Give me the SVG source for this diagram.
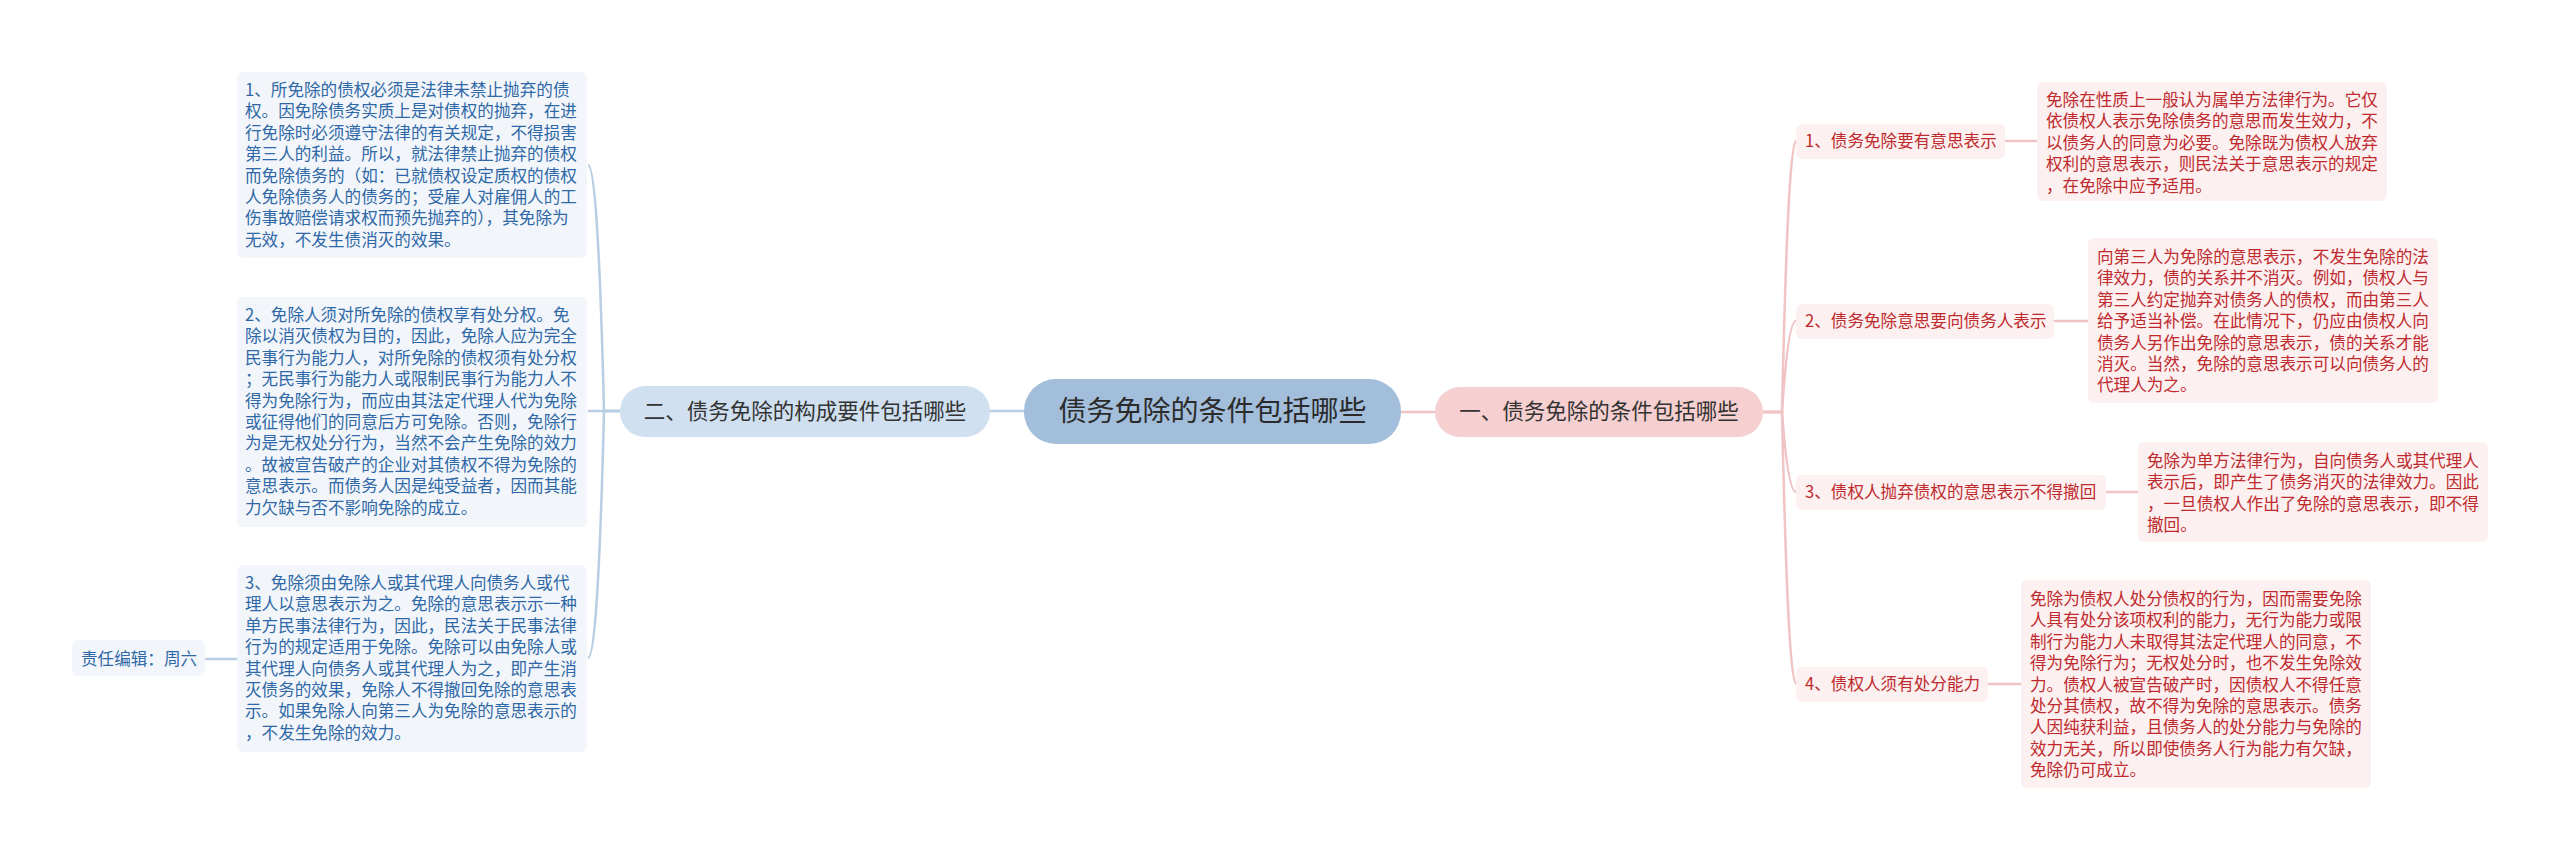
<svg xmlns="http://www.w3.org/2000/svg" width="2560" height="861" viewBox="0 0 2560 861">
<style>
text{font-family:"Noto Sans CJK SC","Noto Sans",sans-serif;}
.bl{fill:#f2f6fb;}
.bt{fill:#2f68a6;font-size:16.6px;}
.pk{fill:#fcf0f0;}
.pt{fill:#bf2a2e;font-size:16.6px;}
.cb{fill:none;stroke:#b9cee4;stroke-width:2.5;}
.cp{fill:none;stroke:#f0c4c4;stroke-width:2.5;}
.l1{font-size:21.5px;fill:#333;text-anchor:middle;}
</style>
<rect width="2560" height="861" fill="#ffffff"/>
<g id="connectors">
<path class="cb" d="M990,411 L1024,411"/>
<path class="cp" d="M1401,412 L1435,412"/>
<path class="cb" d="M620,411 L604,411 Q598,165 588,165"/>
<path class="cb" d="M620,411 L588,411"/>
<path class="cb" d="M620,411 L604,411 Q598,658 588,658"/>
<path class="cb" d="M205,659 L237,659"/>
<path class="cp" d="M1763,412 L1782,412 Q1788,141 1796,141"/>
<path class="cp" d="M1763,412 L1782,412 Q1788,321 1796,321"/>
<path class="cp" d="M1763,412 L1782,412 Q1788,492 1796,492"/>
<path class="cp" d="M1763,412 L1782,412 Q1788,684 1796,684"/>
<path class="cp" d="M2005,141 L2037,141"/>
<path class="cp" d="M2054,321 L2088,321"/>
<path class="cp" d="M2106,492 L2138,492"/>
<path class="cp" d="M1988,684 L2021,684"/>
</g>
<g id="center">
<rect x="1024" y="379" width="377" height="65" rx="32" fill="#a2bedb"/>
<text x="1212.5" y="421" font-size="28" fill="#2b2b2b" text-anchor="middle">债务免除的条件包括哪些</text>
</g>
<g id="branch-left">
<rect x="620" y="386" width="370" height="51" rx="25" fill="#d0e0f0"/>
<text class="l1" x="805" y="419">二、债务免除的构成要件包括哪些</text>
</g>
<g id="branch-right">
<rect x="1435" y="387" width="328" height="50" rx="25" fill="#f6d0d0"/>
<text class="l1" x="1599" y="419">一、债务免除的条件包括哪些</text>
</g>
<g id="left-1">
<rect class="bl" x="237" y="72" width="350" height="186" rx="6"/>
<text class="bt" y="96"><tspan x="245">1、所免除的债权必须是法律未禁止抛弃的债</tspan><tspan x="245" dy="21.4">权。因免除债务实质上是对债权的抛弃，在进</tspan><tspan x="245" dy="21.4">行免除时必须遵守法律的有关规定，不得损害</tspan><tspan x="245" dy="21.4">第三人的利益。所以，就法律禁止抛弃的债权</tspan><tspan x="245" dy="21.4">而免除债务的（如：已就债权设定质权的债权</tspan><tspan x="245" dy="21.4">人免除债务人的债务的；受雇人对雇佣人的工</tspan><tspan x="245" dy="21.4">伤事故赔偿请求权而预先抛弃的），其免除为</tspan><tspan x="245" dy="21.4">无效，不发生债消灭的效果。</tspan></text>
</g>
<g id="left-2">
<rect class="bl" x="237" y="297" width="350" height="230" rx="6"/>
<text class="bt" y="321"><tspan x="245">2、免除人须对所免除的债权享有处分权。免</tspan><tspan x="245" dy="21.4">除以消灭债权为目的，因此，免除人应为完全</tspan><tspan x="245" dy="21.4">民事行为能力人，对所免除的债权须有处分权</tspan><tspan x="245" dy="21.4">；无民事行为能力人或限制民事行为能力人不</tspan><tspan x="245" dy="21.4">得为免除行为，而应由其法定代理人代为免除</tspan><tspan x="245" dy="21.4">或征得他们的同意后方可免除。否则，免除行</tspan><tspan x="245" dy="21.4">为是无权处分行为，当然不会产生免除的效力</tspan><tspan x="245" dy="21.4">。故被宣告破产的企业对其债权不得为免除的</tspan><tspan x="245" dy="21.4">意思表示。而债务人因是纯受益者，因而其能</tspan><tspan x="245" dy="21.4">力欠缺与否不影响免除的成立。</tspan></text>
</g>
<g id="left-3">
<rect class="bl" x="237" y="565" width="350" height="187" rx="6"/>
<text class="bt" y="589"><tspan x="245">3、免除须由免除人或其代理人向债务人或代</tspan><tspan x="245" dy="21.4">理人以意思表示为之。免除的意思表示示一种</tspan><tspan x="245" dy="21.4">单方民事法律行为，因此，民法关于民事法律</tspan><tspan x="245" dy="21.4">行为的规定适用于免除。免除可以由免除人或</tspan><tspan x="245" dy="21.4">其代理人向债务人或其代理人为之，即产生消</tspan><tspan x="245" dy="21.4">灭债务的效果，免除人不得撤回免除的意思表</tspan><tspan x="245" dy="21.4">示。如果免除人向第三人为免除的意思表示的</tspan><tspan x="245" dy="21.4">，不发生免除的效力。</tspan></text>
</g>
<g id="editor">
<rect class="bl" x="72" y="640" width="133" height="36" rx="6"/>
<text class="bt" x="81" y="665">责任编辑：周六</text>
</g>
<g id="right-1">
<rect class="pk" x="1796" y="124" width="209" height="35" rx="6"/>
<text class="pt" x="1805" y="147">1、债务免除要有意思表示</text>
</g>
<g id="right-1-detail">
<rect class="pk" x="2037" y="82" width="350" height="119" rx="6"/>
<text class="pt" y="106"><tspan x="2046">免除在性质上一般认为属单方法律行为。它仅</tspan><tspan x="2046" dy="21.4">依债权人表示免除债务的意思而发生效力，不</tspan><tspan x="2046" dy="21.4">以债务人的同意为必要。免除既为债权人放弃</tspan><tspan x="2046" dy="21.4">权利的意思表示，则民法关于意思表示的规定</tspan><tspan x="2046" dy="21.4">，在免除中应予适用。</tspan></text>
</g>
<g id="right-2">
<rect class="pk" x="1796" y="304" width="258" height="35" rx="6"/>
<text class="pt" x="1805" y="327">2、债务免除意思要向债务人表示</text>
</g>
<g id="right-2-detail">
<rect class="pk" x="2088" y="238" width="350" height="165" rx="6"/>
<text class="pt" y="263"><tspan x="2097">向第三人为免除的意思表示，不发生免除的法</tspan><tspan x="2097" dy="21.4">律效力，债的关系并不消灭。例如，债权人与</tspan><tspan x="2097" dy="21.4">第三人约定抛弃对债务人的债权，而由第三人</tspan><tspan x="2097" dy="21.4">给予适当补偿。在此情况下，仍应由债权人向</tspan><tspan x="2097" dy="21.4">债务人另作出免除的意思表示，债的关系才能</tspan><tspan x="2097" dy="21.4">消灭。当然，免除的意思表示可以向债务人的</tspan><tspan x="2097" dy="21.4">代理人为之。</tspan></text>
</g>
<g id="right-3">
<rect class="pk" x="1796" y="475" width="310" height="35" rx="6"/>
<text class="pt" x="1805" y="498">3、债权人抛弃债权的意思表示不得撤回</text>
</g>
<g id="right-3-detail">
<rect class="pk" x="2138" y="442" width="350" height="100" rx="6"/>
<text class="pt" y="467"><tspan x="2147">免除为单方法律行为，自向债务人或其代理人</tspan><tspan x="2147" dy="21.4">表示后，即产生了债务消灭的法律效力。因此</tspan><tspan x="2147" dy="21.4">，一旦债权人作出了免除的意思表示，即不得</tspan><tspan x="2147" dy="21.4">撤回。</tspan></text>
</g>
<g id="right-4">
<rect class="pk" x="1796" y="667" width="192" height="35" rx="6"/>
<text class="pt" x="1805" y="690">4、债权人须有处分能力</text>
</g>
<g id="right-4-detail">
<rect class="pk" x="2021" y="580" width="350" height="208" rx="6"/>
<text class="pt" y="605"><tspan x="2030">免除为债权人处分债权的行为，因而需要免除</tspan><tspan x="2030" dy="21.4">人具有处分该项权利的能力，无行为能力或限</tspan><tspan x="2030" dy="21.4">制行为能力人未取得其法定代理人的同意，不</tspan><tspan x="2030" dy="21.4">得为免除行为；无权处分时，也不发生免除效</tspan><tspan x="2030" dy="21.4">力。债权人被宣告破产时，因债权人不得任意</tspan><tspan x="2030" dy="21.4">处分其债权，故不得为免除的意思表示。债务</tspan><tspan x="2030" dy="21.4">人因纯获利益，且债务人的处分能力与免除的</tspan><tspan x="2030" dy="21.4">效力无关，所以即使债务人行为能力有欠缺，</tspan><tspan x="2030" dy="21.4">免除仍可成立。</tspan></text>
</g>
</svg>
